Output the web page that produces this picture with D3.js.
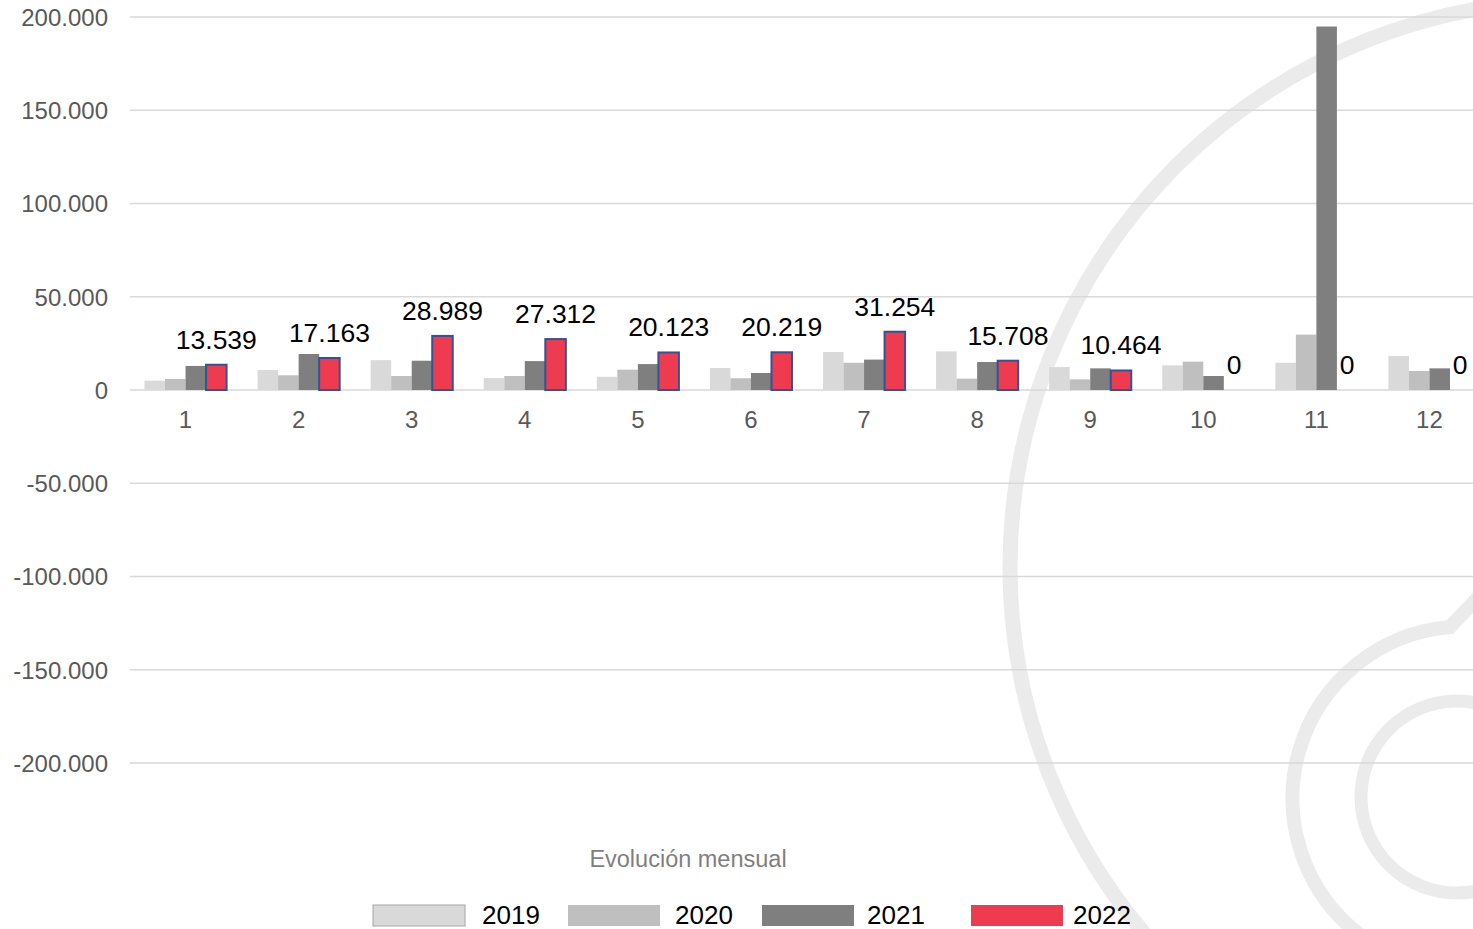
<!DOCTYPE html>
<html lang="es">
<head>
<meta charset="UTF-8">
<title>Evolución mensual</title>
<script src="https://cdn.jsdelivr.net/npm/d3@7"></script>
<style>
  body { margin: 0; background: #fff; }
  svg { display: block; font-family: Arial, "Liberation Sans", sans-serif; }
</style>
</head>
<body>
<script>
// datos
var months = ['1','2','3','4','5','6','7','8','9','10','11','12'];
var years = ['2019','2020','2021','2022'];
var v2019 = [5000,10700,16000,6400,7100,11800,20400,20700,12300,13200,14600,18200];
var v2020 = [5900,7900,7500,7500,10900,6300,14600,6100,5700,15200,29700,10200];
var v2021 = [12900,19300,15700,15500,13900,9100,16300,15000,11600,7500,194900,11600];
var v2022 = [13539,17163,28989,27312,20123,20219,31254,15708,10464,0,0,0];
var yTicks = [-200000,-150000,-100000,-50000,0,50000,100000,150000,200000];
var colors = ['#d9d9d9','#bfbfbf','#7f7f7f','#ef3b4f'];

var width = 1473, height = 929;
var values = [v2019, v2020, v2021, v2022];

var es = d3.formatLocale({decimal: ',', thousands: '.', grouping: [3], currency: ['', '€'], minus: '-'});
var fmt = es.format(',d');

var svg = d3.select('body').append('svg').attr('width', width).attr('height', height);

// marca de agua de fondo
var wm = svg.append('g').attr('fill', 'none').attr('stroke', '#ebebeb');
wm.append('circle').attr('cx', 1577).attr('cy', 567).attr('r', 567).attr('stroke-width', 15);
wm.append('path')
  .attr('d', 'M1490,585 L1450,627 A172,172 0 0 0 1360,935')
  .attr('stroke-width', 14);
wm.append('circle').attr('cx', 1457).attr('cy', 797).attr('r', 96).attr('stroke-width', 13);

var x0 = d3.scaleBand().domain(months).range([129, 1486]).paddingInner(0.274).paddingOuter(0.137);
var x1 = d3.scaleBand().domain(years).range([0, x0.bandwidth()]);
var y = d3.scaleLinear().domain([-200000, 200000]).range([763, 17]);

// rejilla
svg.append('g').selectAll('line').data(yTicks).enter().append('line')
  .attr('x1', 130).attr('x2', width)
  .attr('y1', function(d){ return y(d); }).attr('y2', function(d){ return y(d); })
  .attr('stroke', '#d9d9d9').attr('stroke-width', 1.5);

// eje y
var yAxis = svg.append('g').attr('transform', 'translate(108,0)')
  .call(d3.axisLeft(y).tickValues(yTicks).tickFormat(fmt).tickSize(0).tickPadding(0));
yAxis.select('.domain').remove();
yAxis.selectAll('text').attr('font-size', '24px').attr('fill', '#595959')
  .attr('font-family', 'Arial, "Liberation Sans", sans-serif').attr('dy', '0.35em');

// eje x
var xAxis = svg.append('g').attr('transform', 'translate(0,' + y(0) + ')')
  .call(d3.axisBottom(x0).tickSize(0).tickPadding(21));
xAxis.select('.domain').remove();
xAxis.selectAll('text').attr('font-size', '24px').attr('fill', '#595959')
  .attr('font-family', 'Arial, "Liberation Sans", sans-serif');

// barras
years.forEach(function(yr, s){
  var g = svg.append('g');
  g.selectAll('rect').data(values[s]).enter().append('rect')
    .attr('x', function(d, i){ return x0(months[i]) + x1(yr); })
    .attr('y', function(d){ return y(Math.max(d, 0)); })
    .attr('width', x1.bandwidth())
    .attr('height', function(d){ return Math.abs(y(d) - y(0)); })
    .attr('fill', colors[s])
    .attr('stroke', yr === '2022' ? '#2f5597' : 'none')
    .attr('stroke-width', yr === '2022' ? 2 : 0);
});

// etiquetas 2022
svg.append('g').selectAll('text').data(v2022).enter().append('text')
  .attr('x', function(d, i){ return x0(months[i]) + x1('2022') + x1.bandwidth() / 2; })
  .attr('y', function(d){ return y(d) - 16; })
  .attr('text-anchor', 'middle')
  .attr('font-size', '26.5px')
  .attr('fill', '#000')
  .text(function(d){ return fmt(d); });

// titulo
svg.append('text').attr('x', 688).attr('y', 867).attr('text-anchor', 'middle')
  .attr('font-size', '23.5px').attr('fill', '#7f7f7f').text('Evolución mensual');

// leyenda
var legX = [373, 568, 762, 971];
var legTextX = [482, 675, 867, 1073];
var leg = svg.append('g');
years.forEach(function(yr, s){
  leg.append('rect').attr('x', legX[s]).attr('y', 905).attr('width', 92).attr('height', 21)
    .attr('fill', colors[s])
    .attr('stroke', s === 0 ? '#a6a6a6' : 'none').attr('stroke-width', 1);
  leg.append('text').attr('x', legTextX[s]).attr('y', 924)
    .attr('font-size', '26px').attr('fill', '#000').text(yr);
});
</script>
</body>
</html>
